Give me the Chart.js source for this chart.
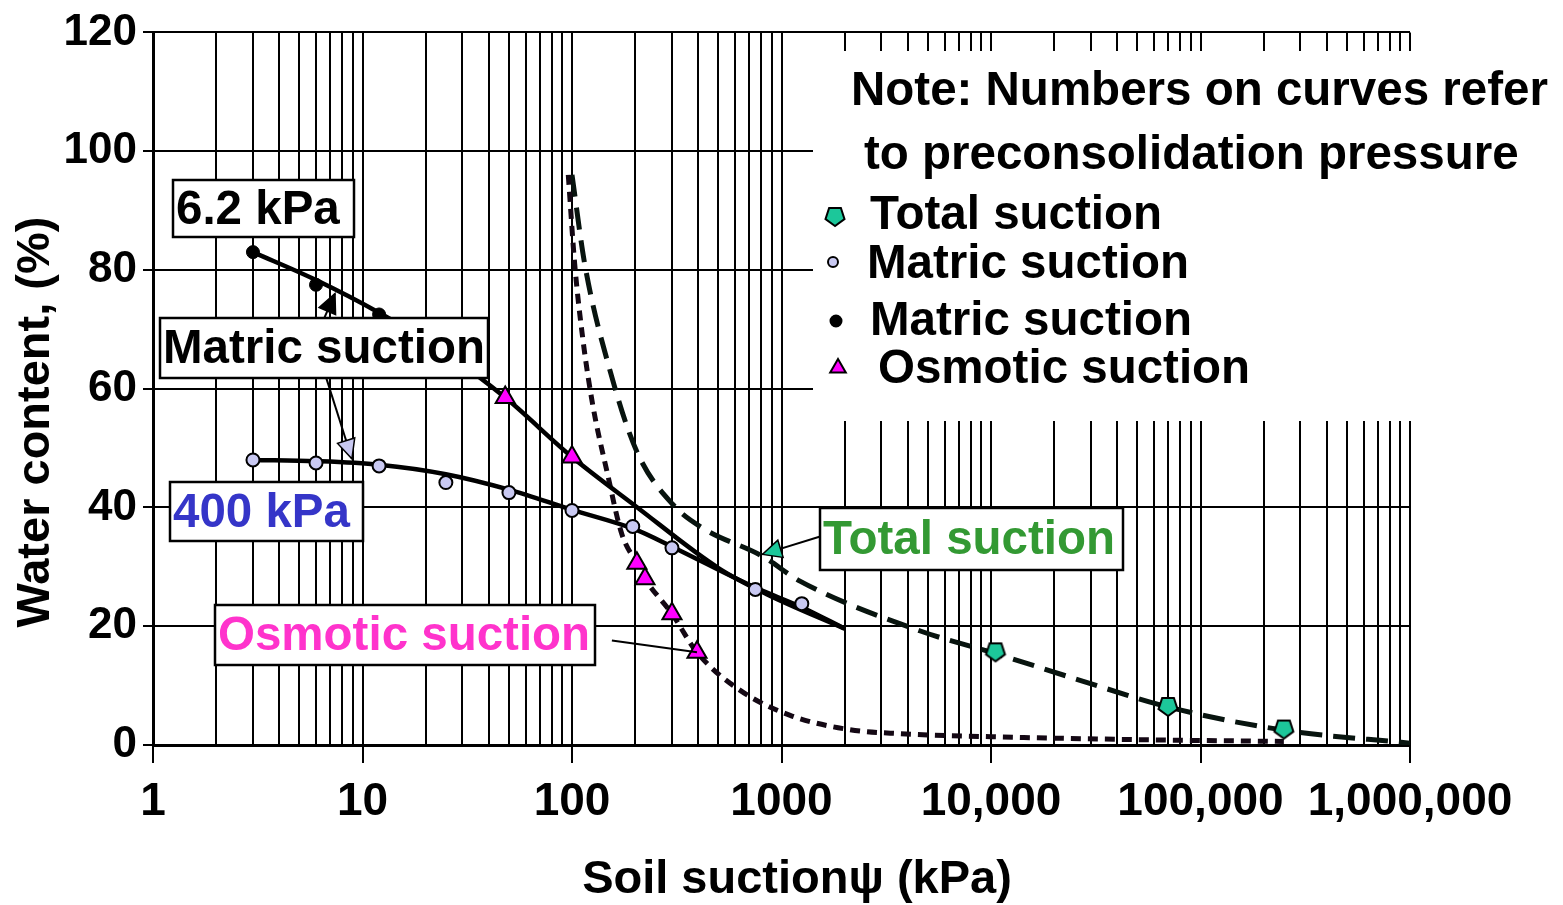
<!DOCTYPE html>
<html>
<head>
<meta charset="utf-8">
<script src="https://cdn.jsdelivr.net/npm/chart.js@4.4.0/dist/chart.umd.min.js"></script>
<style>
  html, body { margin: 0; padding: 0; background: #fff; }
</style>
</head>
<body>
<canvas id="chart" width="1563" height="905"></canvas>
<script>
// axis ticks
const suctionTicks = [1, 10, 100, 1000, 10000, 100000, 1000000];
const suctionTickLabels = ["1", "10", "100", "1000", "10,000", "100,000", "1,000,000"];
const waterTicks = [0, 20, 40, 60, 80, 100, 120];

// measured points
const matric62X = [3, 6, 12];
const matric62Y = [83, 77.5, 72.5];
const matric400X = [3, 6, 12, 25, 50, 100, 195, 300, 750, 1250];
const matric400Y = [48, 47.5, 47, 44.2, 42.5, 39.5, 36.8, 33.2, 26.2, 23.8];
const osmoticX = [48, 100, 204, 223, 300, 395];
const osmoticY = [58.5, 48.5, 30.6, 28, 22.1, 15.6];
const totalX = [10500, 70000, 250000];
const totalY = [15.6, 6.4, 2.6];

// fitted curves
const curve62X = [3, 6, 12, 25, 48, 100, 200, 500, 850, 2000];
const curve62Y = [83, 78.3, 72.8, 66, 58.5, 48.5, 40.3, 29.8, 25.4, 19.6];
const curve400X = [3, 6, 12, 25, 50, 100, 200, 300, 750, 1250, 2000];
const curve400Y = [48, 47.8, 47.2, 45.6, 43, 39.6, 36.3, 33.4, 26.5, 23.2, 19.6];
const osmCurveX = [96, 103, 113, 126, 147, 173, 204, 223, 300, 395, 635, 1100, 2100, 3700, 10000, 50000, 250000];
const osmCurveY = [96, 81, 68, 57, 46, 35.5, 30.6, 28, 22.1, 15.6, 9.2, 5, 2.6, 1.9, 1.4, 0.9, 0.6];
const totCurveX = [100, 115, 152, 204, 303, 422, 810, 1225, 4600, 10500, 26600, 70000, 250000, 1000000];
const totCurveY = [96, 81, 63, 49.4, 40.5, 36.5, 31.8, 27.6, 19.2, 15.4, 10.9, 6.4, 2.5, 0.3];

const pts = (xs, ys) => xs.map((x, i) => ({ x: x, y: ys[i] }));

const FONT = "'Liberation Sans', Arial, sans-serif";
const TEAL = "#1cc79a";
const LAVENDER = "#c9c9f2";
const MAGENTA = "#ff00ff";

// inverted pentagon marker
function pentagon(r, fill) {
  const c = document.createElement("canvas");
  const s = 2 * r + 4;
  c.width = s;
  c.height = s;
  const g = c.getContext("2d");
  g.beginPath();
  for (let i = 0; i < 5; i++) {
    const a = Math.PI / 2 + (i * 2 * Math.PI) / 5;
    const px = s / 2 + r * Math.cos(a);
    const py = s / 2 - 1 + r * Math.sin(a);
    if (i) g.lineTo(px, py); else g.moveTo(px, py);
  }
  g.closePath();
  g.fillStyle = fill;
  g.fill();
  g.lineWidth = 2;
  g.strokeStyle = "#000";
  g.stroke();
  return c;
}
const pentaImg = pentagon(10, TEAL);

// boxes, legend and arrows drawn on top of the curves
const decorations = {
  id: "decorations",
  beforeDatasetsDraw(chart) {
    const ctx = chart.ctx;
    // blank panel behind the note/legend
    ctx.save();
    ctx.fillStyle = "#fff";
    ctx.fillRect(813, 51, 750, 370);
    ctx.restore();
  },
  afterDatasetsDraw(chart) {
    const ctx = chart.ctx;
    const xs = chart.scales.x;
    const ys = chart.scales.y;
    const P = (x, y) => [xs.getPixelForValue(x), ys.getPixelForValue(y)];

    function arrow(from, to, color) {
      const [x1, y1] = P(from[0], from[1]);
      const [x2, y2] = P(to[0], to[1]);
      ctx.save();
      ctx.strokeStyle = "#000";
      ctx.lineWidth = 2;
      ctx.beginPath();
      ctx.moveTo(x1, y1);
      ctx.lineTo(x2, y2);
      ctx.stroke();
      if (color) {
        const a = Math.atan2(y2 - y1, x2 - x1);
        const L = 19, W = 9;
        ctx.beginPath();
        ctx.moveTo(x2, y2);
        ctx.lineTo(x2 - L * Math.cos(a) + W * Math.sin(a), y2 - L * Math.sin(a) - W * Math.cos(a));
        ctx.lineTo(x2 - L * Math.cos(a) - W * Math.sin(a), y2 - L * Math.sin(a) + W * Math.cos(a));
        ctx.closePath();
        ctx.fillStyle = color;
        ctx.fill();
        ctx.lineWidth = 1.5;
        ctx.stroke();
      }
      ctx.restore();
    }

    function box(text, x, y, w, h, color) {
      ctx.save();
      ctx.fillStyle = "#fff";
      ctx.fillRect(x, y, w, h);
      ctx.strokeStyle = "#000";
      ctx.lineWidth = 2.5;
      ctx.strokeRect(x, y, w, h);
      ctx.fillStyle = color;
      ctx.font = "bold 47.5px " + FONT;
      ctx.textBaseline = "middle";
      ctx.fillText(text, x + 3, y + h / 2 + 2);
      ctx.restore();
    }

    arrow([6.13, 69.5], [7.39, 76], "#000");
    arrow([6.7, 61.9], [8.9, 48.2], LAVENDER);
    arrow([1530, 35.1], [810, 32.1], TEAL);
    arrow([155, 17.6], [395, 15.6], null);

    box("6.2 kPa", 173, 180, 181, 57, "#000");
    box("Matric suction", 160, 318, 328, 60, "#000");
    box("400 kPa", 170, 482, 193, 59, "#3535c8");
    box("Osmotic suction", 215, 605, 380, 60, "#ff33cc");
    box("Total suction", 820, 508, 303, 62, "#339933");

    // note + legend
    ctx.save();
    ctx.fillStyle = "#000";
    ctx.font = "bold 47.5px " + FONT;
    ctx.textBaseline = "middle";
    ctx.fillText("Note: Numbers on curves refer", 851, 92);
    ctx.fillText("to preconsolidation pressure", 864, 156);
    ctx.fillText("Total suction", 870, 216);
    ctx.fillText("Matric suction", 867, 265);
    ctx.fillText("Matric suction", 870, 322);
    ctx.fillText("Osmotic suction", 878, 370);
    ctx.drawImage(pentaImg, 835 - pentaImg.width / 2, 217 - pentaImg.height / 2);
    const H = Chart.helpers;
    ctx.fillStyle = LAVENDER;
    ctx.strokeStyle = "#000";
    ctx.lineWidth = 2;
    H.drawPoint(ctx, { pointStyle: "circle", radius: 5, borderWidth: 2 }, 833, 262);
    ctx.fillStyle = "#000";
    H.drawPoint(ctx, { pointStyle: "circle", radius: 5.5, borderWidth: 1 }, 836, 321);
    ctx.fillStyle = MAGENTA;
    H.drawPoint(ctx, { pointStyle: "triangle", radius: 9, borderWidth: 2 }, 838, 368);
    ctx.restore();

    // axis titles
    ctx.save();
    ctx.fillStyle = "#000";
    ctx.font = "bold 47px " + FONT;
    ctx.textAlign = "center";
    ctx.textBaseline = "middle";
    ctx.fillText("Soil suction\u03C8 (kPa)", 797, 880);
    ctx.translate(36, 422);
    ctx.rotate(-Math.PI / 2);
    ctx.fillText("Water content, (%)", 0, 0);
    ctx.restore();
  },
};

const lineStyle = {
  showLine: true,
  pointRadius: 0,
  borderColor: "#000",
  borderWidth: 4.5,
  cubicInterpolationMode: "monotone",
  order: 10,
};

new Chart(document.getElementById("chart"), {
  type: "scatter",
  data: {
    datasets: [
      Object.assign({ label: "6.2 kPa curve", data: pts(curve62X, curve62Y) }, lineStyle),
      Object.assign({ label: "400 kPa curve", data: pts(curve400X, curve400Y) }, lineStyle),
      Object.assign({ label: "Osmotic curve", data: pts(osmCurveX, osmCurveY), borderDash: [10, 7] }, lineStyle, { borderWidth: 5, borderColor: "#140814" }),
      Object.assign({ label: "Total curve", data: pts(totCurveX, totCurveY), borderDash: [22, 11] }, lineStyle, { borderWidth: 5, borderColor: "#08140f" }),
      {
        label: "Matric suction 6.2",
        data: pts(matric62X, matric62Y),
        pointStyle: "circle",
        pointRadius: 6.5,
        backgroundColor: "#000",
        borderColor: "#000",
        borderWidth: 1,
        order: 1,
      },
      {
        label: "Matric suction 400",
        data: pts(matric400X, matric400Y),
        pointStyle: "circle",
        pointRadius: 6.5,
        backgroundColor: LAVENDER,
        borderColor: "#000",
        borderWidth: 2,
        order: 1,
      },
      {
        label: "Osmotic suction",
        data: pts(osmoticX, osmoticY),
        pointStyle: "triangle",
        pointRadius: 11,
        backgroundColor: MAGENTA,
        borderColor: "#000",
        borderWidth: 2,
        order: 1,
      },
      {
        label: "Total suction",
        data: pts(totalX, totalY),
        pointStyle: pentaImg,
        pointRadius: 10,
        order: 1,
      },
    ],
  },
  options: {
    responsive: false,
    animation: false,
    devicePixelRatio: 1,
    layout: { padding: { top: 28, right: 153, bottom: 0, left: 0 } },
    plugins: { legend: { display: false }, tooltip: { enabled: false } },
    scales: {
      x: {
        type: "logarithmic",
        min: 1,
        max: 1000000,
        afterFit: (s) => { s.height = 160; },
        afterBuildTicks: (s) => {
          const t = [];
          for (let d = 1; d < 1000000; d *= 10) {
            for (let m = 1; m < 10; m++) t.push({ value: d * m, major: m === 1 });
          }
          t.push({ value: 1000000, major: true });
          s.ticks = t;
        },
        border: { color: "#000", width: 3 },
        grid: {
          color: "#000",
          lineWidth: 2,
          tickLength: 18,
          tickColor: (c) => (c.tick && c.tick.major ? "#000" : "rgba(0,0,0,0)"),
        },
        ticks: {
          autoSkip: false,
          maxRotation: 0,
          padding: 12,
          color: "#000",
          font: { family: FONT, size: 46, weight: "bold" },
          callback: (v) => {
            const i = suctionTicks.indexOf(v);
            return i >= 0 ? suctionTickLabels[i] : "";
          },
        },
      },
      y: {
        min: 0,
        max: 120,
        afterFit: (s) => { s.width = 153; },
        afterBuildTicks: (s) => { s.ticks = waterTicks.map((v) => ({ value: v })); },
        border: { color: "#000", width: 3 },
        grid: { color: "#000", lineWidth: 2, tickLength: 10, tickColor: "#000" },
        ticks: {
          padding: 6,
          color: "#000",
          font: { family: FONT, size: 44, weight: "bold" },
        },
      },
    },
  },
  plugins: [decorations],
});
</script>
</body>
</html>
